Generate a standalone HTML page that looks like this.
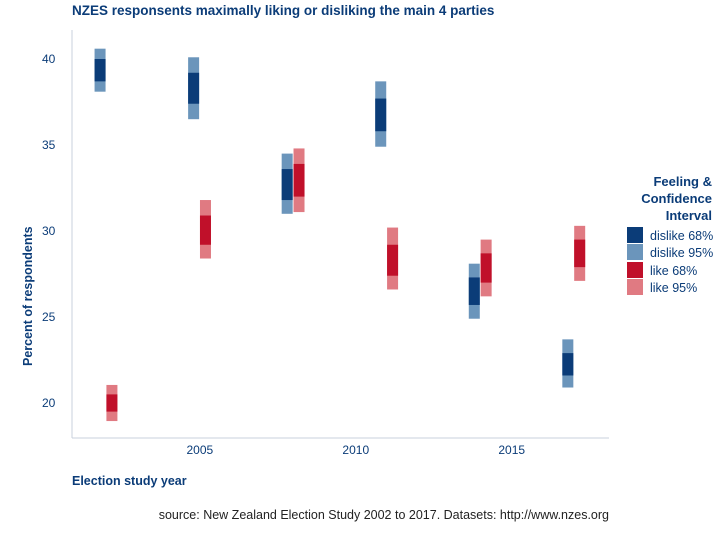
<!DOCTYPE html>
<html><head><meta charset="utf-8"><style>
body{margin:0;background:#fff;font-family:"Liberation Sans",sans-serif;}
svg text{font-family:"Liberation Sans",sans-serif;}
</style></head><body>
<svg width="722" height="540" id="chart">
<text x="72" y="15" font-size="13.5" font-weight="bold" fill="#0b3c78">NZES responsents maximally liking or disliking the main 4 parties</text>
<text x="72" y="485" font-size="12.5" font-weight="bold" fill="#0b3c78">Election study year</text>
<text transform="translate(32,366) rotate(-90)" font-size="12.5" font-weight="bold" fill="#0b3c78">Percent of respondents</text>
<text x="609" y="519" font-size="12.5" fill="#222" text-anchor="end">source: New Zealand Election Study 2002 to 2017. Datasets: http://www.nzes.org</text>
<g>
<text x="712" y="186" font-size="13" font-weight="bold" fill="#0b3c78" text-anchor="end">Feeling &amp;</text>
<text x="712" y="203" font-size="13" font-weight="bold" fill="#0b3c78" text-anchor="end">Confidence</text>
<text x="712" y="220" font-size="13" font-weight="bold" fill="#0b3c78" text-anchor="end">Interval</text>
<g><rect x="627" y="227" width="16" height="16" fill="#0b3c78"/><text x="650" y="240" font-size="12.5" fill="#0b3c78">dislike 68%</text></g>
<g><rect x="627" y="244" width="16" height="16" fill="#6b95bb"/><text x="650" y="257" font-size="12.5" fill="#0b3c78">dislike 95%</text></g>
<g><rect x="627" y="262" width="16" height="16" fill="#c0102a"/><text x="650" y="275" font-size="12.5" fill="#0b3c78">like 68%</text></g>
<g><rect x="627" y="279" width="16" height="16" fill="#e07a82"/><text x="650" y="292" font-size="12.5" fill="#0b3c78">like 95%</text></g>
</g>
<g id="plot"></g>
</svg>
<script>
const years=[2002,2005,2008,2011,2014,2017];
const dislike95Lo=[38.1,36.5,31.0,34.9,24.9,20.9];
const dislike95Hi=[40.6,40.1,34.5,38.7,28.1,23.7];
const dislike68Lo=[38.7,37.4,31.8,35.8,25.7,21.6];
const dislike68Hi=[40.0,39.2,33.6,37.7,27.3,22.9];
const like95Lo=[18.95,28.4,31.1,26.6,26.2,27.1];
const like95Hi=[21.05,31.8,34.8,30.2,29.5,30.3];
const like68Lo=[19.5,29.2,32.0,27.4,27.0,27.9];
const like68Hi=[20.5,30.9,33.9,29.2,28.7,29.5];
const xTicks=[2005,2010,2015];
const yTicks=[20,25,30,35,40];

const ns="http://www.w3.org/2000/svg";
const g=document.getElementById('plot');
const X0=72,X1=609,Y0=438,Y1=30;
const xs=v=>X0+(v-2000.9)/(2018.12-2000.9)*(X1-X0);
const ys=v=>403+(20-v)*17.2;
function mk(t,a){const e=document.createElementNS(ns,t);for(const k in a)e.setAttribute(k,a[k]);g.appendChild(e);return e;}
let e=mk('line',{x1:X0,y1:Y1,x2:X0,y2:Y0,stroke:'#c8d0dc'});

e=mk('line',{x1:X0,y1:Y0,x2:X1,y2:Y0,stroke:'#c8d0dc'});

xTicks.forEach(t=>{const el=mk('text',{x:xs(t),y:Y0+16,'font-size':12,fill:'#0b3c78','text-anchor':'middle'});el.textContent=t;
});
yTicks.forEach(t=>{const el=mk('text',{x:X0-30,y:ys(t)+4,'font-size':12,fill:'#0b3c78'});el.textContent=t;
});
const W=11;
function bar(yr,off,lo,hi,col,name){const cx=xs(yr+off);
const r=mk('rect',{x:cx-W/2,y:ys(hi),width:W,height:ys(lo)-ys(hi),fill:col});
}
years.forEach((yr,i)=>{
bar(yr,-0.2,dislike95Lo[i],dislike95Hi[i],'#6b95bb','dislike-95-bar');
bar(yr,-0.2,dislike68Lo[i],dislike68Hi[i],'#0b3c78','dislike-68-bar');
bar(yr,0.18,like95Lo[i],like95Hi[i],'#e07a82','like-95-bar');
bar(yr,0.18,like68Lo[i],like68Hi[i],'#c0102a','like-68-bar');
});
</script>
</body></html>
